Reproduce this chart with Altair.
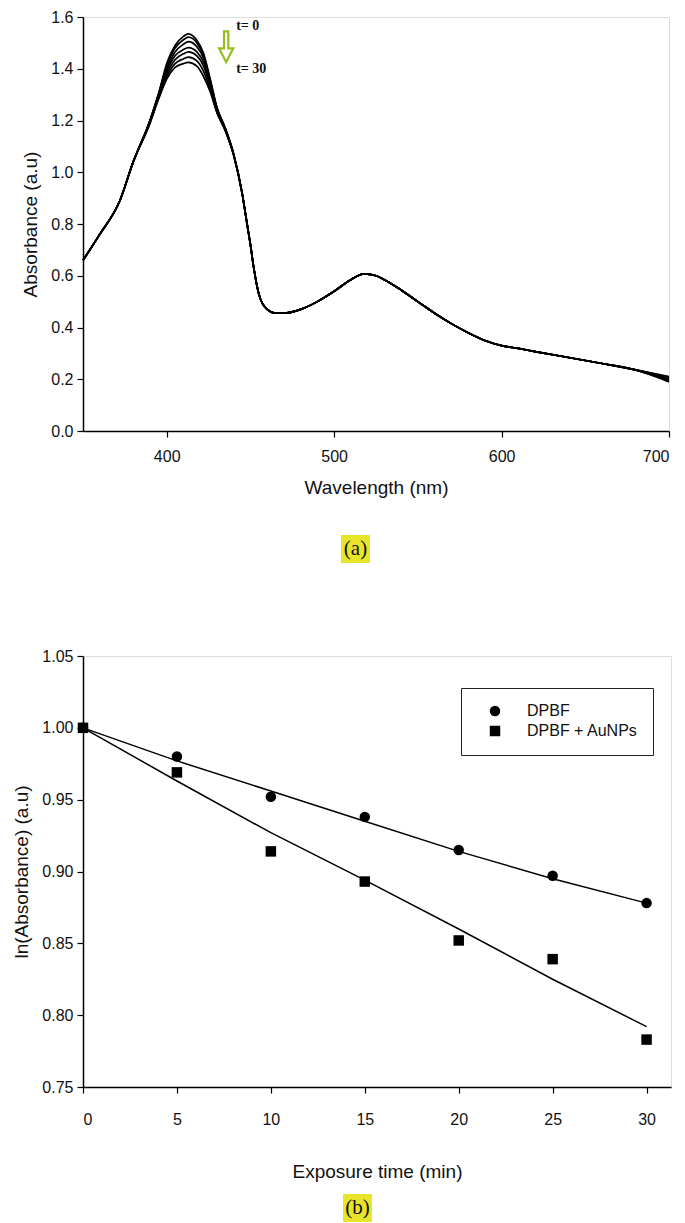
import altair as alt
import pandas as pd

# ---------------- Panel (a) data: absorption spectra ----------------
WAVELENGTH = [350, 360, 372, 380,
              390, 395, 400, 405, 410, 413, 418, 422, 426, 430, 435, 440,
              445, 448, 450, 452, 455, 460, 465, 470, 480, 490, 500, 510, 518,
              525, 530, 540, 550, 560, 570, 580, 590, 600, 610, 620, 640, 660, 680,
              700]
HEAD = [0.66, 0.76, 0.89, 1.04]
PEAK = {
    0:  [1.20, 1.30, 1.42, 1.49, 1.525, 1.535, 1.51, 1.46, 1.36, 1.25, 1.17, 1.07],
    5:  [1.20, 1.30, 1.41, 1.48, 1.512, 1.522, 1.50, 1.45, 1.355, 1.25, 1.17, 1.07],
    10: [1.20, 1.30, 1.40, 1.465, 1.495, 1.505, 1.485, 1.44, 1.35, 1.245, 1.168, 1.069],
    15: [1.195, 1.295, 1.39, 1.45, 1.474, 1.482, 1.465, 1.425, 1.34, 1.24, 1.165, 1.068],
    20: [1.195, 1.29, 1.38, 1.435, 1.458, 1.465, 1.45, 1.41, 1.33, 1.235, 1.163, 1.067],
    25: [1.19, 1.285, 1.37, 1.42, 1.438, 1.445, 1.43, 1.39, 1.32, 1.232, 1.162, 1.066],
    30: [1.19, 1.28, 1.36, 1.405, 1.42, 1.425, 1.41, 1.37, 1.31, 1.23, 1.16, 1.065],
}
TAIL = [0.92, 0.80, 0.72, 0.63, 0.53, 0.47, 0.455, 0.455, 0.47, 0.50, 0.54, 0.585, 0.607,
        0.60, 0.585, 0.545, 0.50, 0.455, 0.415, 0.38, 0.35, 0.33, 0.319, 0.307, 0.284, 0.261, 0.236]
END = {0: 0.210, 5: 0.207, 10: 0.203, 15: 0.200, 20: 0.197, 25: 0.193, 30: 0.190}

rows = []
for t, pk in PEAK.items():
    vals = HEAD + pk + TAIL + [END[t]]
    for w, a in zip(WAVELENGTH, vals):
        rows.append({"wl": w, "abs": a, "t": t})
spectra = pd.DataFrame(rows)

ANNOT_TEXT = ["t= 0", "t= 30"]
ANNOT_X = [441.5, 441.5]
ANNOT_Y = [1.565, 1.40]
ARROW_X = [435.5]
ARROW_Y = [1.485]

# ---------------- Panel (b) data: kinetics ----------------
TIME = [0, 5, 10, 15, 20, 25, 30]
DPBF = [1.000, 0.980, 0.952, 0.938, 0.915, 0.897, 0.878]
DPBF_AU = [1.000, 0.969, 0.914, 0.893, 0.852, 0.839, 0.783]
DPBF_FIT = [1.000, 0.977, 0.956, 0.935, 0.914, 0.895, 0.878]
DPBF_AU_FIT = [1.000, 0.963, 0.927, 0.894, 0.860, 0.825, 0.792]
SERIES = ["DPBF", "DPBF + AuNPs"]

pts = pd.DataFrame(
    [{"time": t, "val": v, "series": SERIES[0]} for t, v in zip(TIME, DPBF)]
    + [{"time": t, "val": v, "series": SERIES[1]} for t, v in zip(TIME, DPBF_AU)]
)
fits = pd.DataFrame(
    [{"time": t, "val": v, "series": SERIES[0]} for t, v in zip(TIME, DPBF_FIT)]
    + [{"time": t, "val": v, "series": SERIES[1]} for t, v in zip(TIME, DPBF_AU_FIT)]
)

FONT = "Liberation Sans"
SERIF = "Liberation Serif"
YELLOW = "#E8E42A"
GREEN = "#93C01F"

axis_common = dict(
    domainColor="black", domainWidth=1.5, tickColor="black", tickWidth=1.2, tickSize=6,
    labelFont=FONT, labelFontSize=16, labelColor="#111", titleFont=FONT, titleFontSize=19,
    titleFontWeight="normal", titleColor="#111", grid=False,
)

# ---------------- Panel (a) ----------------
WA, HA = 586, 414
xa = alt.X("wl:Q", scale=alt.Scale(domain=[350, 700], nice=False, zero=False),
           axis=alt.Axis(values=[400, 500, 600, 700], title="Wavelength (nm)",
                         labelPadding=11, titlePadding=14, **axis_common))
ya = alt.Y("abs:Q", scale=alt.Scale(domain=[0, 1.6], nice=False),
           axis=alt.Axis(values=[0, 0.2, 0.4, 0.6, 0.8, 1.0, 1.2, 1.4, 1.6], format=".1f",
                         title="Absorbance (a.u)", labelPadding=4, titlePadding=10, **axis_common))

lines_a = alt.Chart(spectra).mark_line(color="black", strokeWidth=1.7, interpolate="monotone").encode(
    x=xa, y=ya, detail="t:N")

annot_df = pd.DataFrame({"x": ANNOT_X, "y": ANNOT_Y, "label": ANNOT_TEXT})
annot = alt.Chart(annot_df).mark_text(font=SERIF, fontSize=14, fontWeight="bold", align="left",
                                      baseline="middle", color="#111").encode(
    x="x:Q", y="y:Q", text="label:N")

arrow_df = pd.DataFrame({"x": ARROW_X, "y": ARROW_Y})
arrow = alt.Chart(arrow_df).mark_point(
    shape="M -0.14 -1 L 0.14 -1 L 0.14 0.1 L 0.46 0.1 L 0 1 L -0.46 0.1 L -0.14 0.1 Z",
    filled=False, stroke=GREEN, strokeWidth=2.2, size=950, opacity=1).encode(x="x:Q", y="y:Q")

cap_a_box = alt.Chart(pd.DataFrame({"k": [0]})).mark_rect(color=YELLOW).encode(
    x=alt.value(258), x2=alt.value(287), y=alt.value(HA + 104), y2=alt.value(HA + 132))
cap_a = alt.Chart(pd.DataFrame({"k": [0]})).mark_text(
    text="(a)", font=SERIF, fontSize=21, color="#111", baseline="middle", align="center").encode(
    x=alt.value(272.5), y=alt.value(HA + 118))

panel_a = alt.layer(lines_a, arrow, annot, cap_a_box, cap_a).properties(width=WA, height=HA)

# ---------------- Panel (b) ----------------
WB, HB = 588, 431
xb = alt.X("time:Q", scale=alt.Scale(domain=[0, 31.3], nice=False),
           axis=alt.Axis(values=[0, 5, 10, 15, 20, 25, 30], title="Exposure time (min)",
                         labelPadding=18, titlePadding=35, **axis_common))
yb = alt.Y("val:Q", scale=alt.Scale(domain=[0.75, 1.05], nice=False, zero=False),
           axis=alt.Axis(values=[0.75, 0.80, 0.85, 0.90, 0.95, 1.00, 1.05], format=".2f",
                         title="ln(Absorbance) (a.u)", labelPadding=4, titlePadding=10,
                         **axis_common))

fit_lines = alt.Chart(fits).mark_line(color="black", strokeWidth=1.5).encode(
    x=xb, y=yb, detail="series:N")

points = alt.Chart(pts).mark_point(filled=True, opacity=1, size=110, color="black").encode(
    x=xb, y=yb,
    shape=alt.Shape("series:N", scale=alt.Scale(domain=SERIES, range=["circle", "square"]),
                    legend=alt.Legend(title=None, orient="none", legendX=378, legendY=32,
                                      strokeColor="#222", padding=15,
                                      symbolSize=110,
                                      symbolFillColor="black", symbolStrokeColor="black",
                                      symbolOffset=11, labelOffset=24, rowPadding=2,
                                      labelFont=FONT, labelFontSize=16, labelColor="#111",
                                      fillColor="white")))

cap_b_box = alt.Chart(pd.DataFrame({"k": [0]})).mark_rect(color=YELLOW).encode(
    x=alt.value(260), x2=alt.value(289), y=alt.value(HB + 107), y2=alt.value(HB + 135))
cap_b = alt.Chart(pd.DataFrame({"k": [0]})).mark_text(
    text="(b)", font=SERIF, fontSize=21, color="#111", baseline="middle", align="center").encode(
    x=alt.value(274.5), y=alt.value(HB + 121))

panel_b = alt.layer(fit_lines, points, cap_b_box, cap_b).properties(width=WB, height=HB)

chart = alt.vconcat(panel_a, panel_b, spacing=83).resolve_scale(
    shape="independent").resolve_legend(shape="independent").properties(
    padding={"left": 4, "top": 0, "right": 0, "bottom": 0}
).configure_view(stroke="black", strokeWidth=1.5).configure(background="white")

chart.save("out.html", embed_options={"renderer": "svg", "actions": False})
